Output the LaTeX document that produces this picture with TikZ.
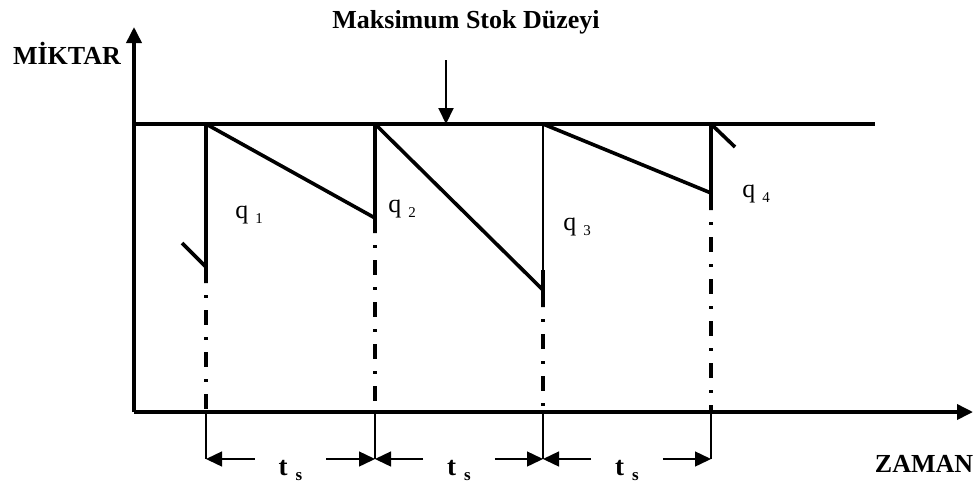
\documentclass[tikz,border=0pt]{standalone}
\usepackage{fontspec}
\setmainfont{Liberation Serif}
\usetikzlibrary{arrows.meta, calc, positioning}
\tikzset{
    >={Triangle[length=8pt, width=7.5pt]},
    thickline/.style={line width=1.8pt},
    thinline/.style={line width=0.7pt},
    dashdot/.style={line width=1.8pt, dash pattern=on 1.5pt off 6pt on 7.5pt off 6pt, dash phase=15pt},
    axislabel/.style={anchor=base, inner sep=0pt, font=\fontsize{13}{15}\selectfont\bfseries},
    qlabel/.style={anchor=base west, inner sep=0pt, font=\fontsize{13}{15}\selectfont},
    tslabel/.style={inner sep=0pt, minimum width=35.5pt, text height=16pt, text depth=0pt,
        font=\fontsize{13.5}{15}\selectfont\bfseries}
}
\newcommand{\qsub}[1]{q\hspace{3.5pt}\raisebox{-2.5pt}{\fontsize{7.5}{8}\selectfont #1}}
\newcommand{\tsub}{t\hspace{4pt}\raisebox{-2.5pt}{\fontsize{8.5}{9}\selectfont s}}

\begin{document}
\begin{tikzpicture}[x=0.5pt, y=-0.5pt]
    \useasboundingbox (0,0) rectangle (978,487);

    % Axes and maximum level
    \coordinate (O) at (134,412);
    \coordinate (Ytop) at (134,27);
    \coordinate (Xend) at (973,412);
    \coordinate (Mleft) at (134,124);
    \coordinate (Mright) at (875,124);

    % Order points (top), stock before order (low), end of solid part
    \coordinate (T1) at (206,124);
    \coordinate (T2) at (375,124);
    \coordinate (T3) at (543,124);
    \coordinate (T4) at (711,124);
    \coordinate (L1) at (206,267);
    \coordinate (L2) at (375,218);
    \coordinate (L3) at (543,290);
    \coordinate (L4) at (711,193);
    \coordinate (S1) at (206,283);
    \coordinate (S2) at (375,233);
    \coordinate (S3) at (543,307);
    \coordinate (S4) at (711,210);
    \coordinate (B1) at (206,412);
    \coordinate (B2) at (375,412);
    \coordinate (B3) at (543,412);
    \coordinate (B4) at (711,412);
    \coordinate (D1) at (206,459);
    \coordinate (D2) at (375,459);
    \coordinate (D3) at (543,459);
    \coordinate (D4) at (711,459);
    \coordinate (K1) at (182,243);
    \coordinate (K4) at (735,147);
    \coordinate (Atop) at (446,60);
    \coordinate (Abot) at (446,124);

    \draw[thickline, ->] (O) -- (Ytop);
    \draw[thickline, ->] (O) -- (Xend);
    \draw[thickline] (Mleft) -- (Mright);

    % Stock level
    \draw[thickline] (K1) -- (L1);
    \draw[thickline] (T1) -- (S1);
    \draw[thickline] (T1) -- (L2);
    \draw[thickline] (T2) -- (S2);
    \draw[thickline] (T2) -- (L3);
    \draw[line width=1pt] (T3) -- (L3);
    \draw[thickline] ($(T3)!0.88!(L3)$) -- (S3);
    \draw[thickline] (T3) -- (L4);
    \draw[thickline] (T4) -- (S4);
    \draw[thickline] (T4) -- (K4);

    % Dash-dot guides
    \draw[dashdot] (S1) -- (B1);
    \draw[dashdot] (S2) -- (B2);
    \draw[dashdot] (S3) -- (B3);
    \draw[dashdot] (S4) -- (B4);

    % Cycle length t_s
    \draw[thinline] (B1) -- (D1);
    \draw[thinline] (B2) -- (D2);
    \draw[thinline] (B3) -- (D3);
    \draw[thinline] (B4) -- (D4);
    \node[tslabel] (ts1) at ($(D1)!0.5!(D2)$) {\tsub};
    \node[tslabel] (ts2) at ($(D2)!0.5!(D3)$) {\tsub};
    \node[tslabel] (ts3) at ($(D3)!0.5!(D4)$) {\tsub};
    \draw[thinline, ->] (ts1.west) -- (D1);
    \draw[thinline, ->] (ts1.east) -- (D2);
    \draw[thinline, ->] (ts2.west) -- (D2);
    \draw[thinline, ->] (ts2.east) -- (D3);
    \draw[thinline, ->] (ts3.west) -- (D3);
    \draw[thinline, ->] (ts3.east) -- (D4);

    % Order quantities
    \node[qlabel] (q1) at (235,218) {\qsub{1}};
    \node[qlabel] (q2) at (388,212) {\qsub{2}};
    \node[qlabel] (q3) at (563,230) {\qsub{3}};
    \node[qlabel] (q4) at (742,197) {\qsub{4}};

    % Labels
    \node[axislabel] (miktar) at (67,64) {MİKTAR};
    \node[axislabel] (zaman) at (924,472) {ZAMAN};
    \node[axislabel] (maks) at (466,28) {Maksimum Stok Düzeyi};
    \draw[line width=1pt, ->] (Atop) -- (Abot);
\end{tikzpicture}
\end{document}
